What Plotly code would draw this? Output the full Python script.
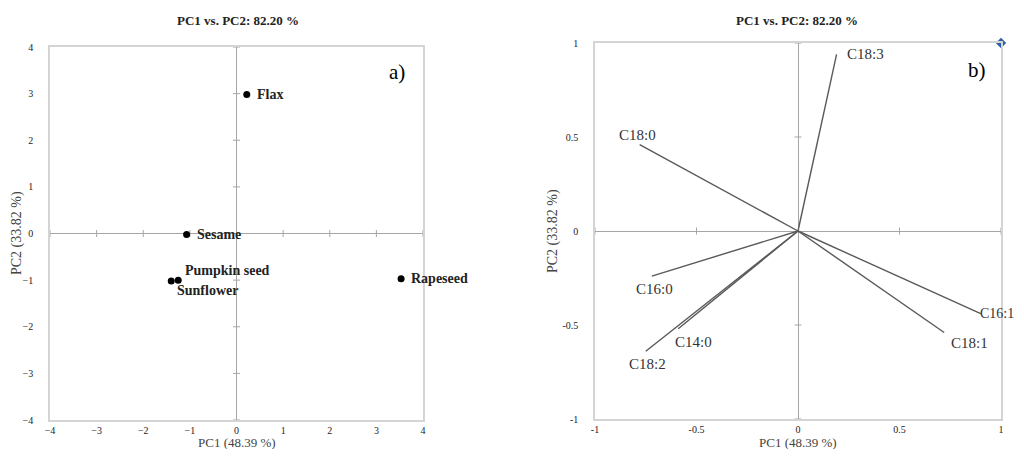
import plotly.graph_objects as go

# ---- data: panel a (scores) ----
oils = ["Flax", "Sesame", "Pumpkin seed", "Sunflower", "Rapeseed"]
pc1_scores = [0.22, -1.07, -1.25, -1.40, 3.53]
pc2_scores = [2.98, -0.02, -1.00, -1.02, -0.97]

# ---- data: panel b (loadings) ----
acids = ["C18:3", "C18:0", "C16:0", "C14:0", "C18:2", "C16:1", "C18:1"]
pc1_load = [0.19, -0.78, -0.72, -0.59, -0.75, 0.90, 0.72]
pc2_load = [0.94, 0.46, -0.24, -0.52, -0.64, -0.44, -0.54]

ticks_a = [-4, -3, -2, -1, 0, 1, 2, 3, 4]
ticks_b = [-1, -0.5, 0, 0.5, 1]
tick_text_b = ["-1", "-0.5", "0", "0.5", "1"]

title_text = "PC1 vs. PC2: 82.20 %"
xlab = "PC1 (48.39 %)"
ylab = "PC2 (33.82 %)"

SERIF = "'Liberation Serif', 'Times New Roman', 'DejaVu Serif', serif"
FRAME = "#d4d4d4"
ZERO = "#a6a6a6"
LINEC = "#595959"

# page body has an 8px margin: map page pixels to paper fractions
W, H, OFF = 1016, 441, 8
def fx(px):
    return (px - OFF) / W
def fy(py):
    return 1 - (py - OFF) / H

fig = go.Figure()

# small tick marks on the zero lines (Excel-style crossing axes)
fig.add_trace(go.Scatter(x=[t for t in ticks_a if t != 0], y=[0]*8, mode="markers",
                         marker=dict(symbol="line-ns", size=5, line=dict(color=ZERO, width=1)),
                         xaxis="x", yaxis="y", hoverinfo="skip", showlegend=False))
fig.add_trace(go.Scatter(y=[t for t in ticks_a if t != 0], x=[0]*8, mode="markers",
                         marker=dict(symbol="line-ew", size=5, line=dict(color=ZERO, width=1)),
                         xaxis="x", yaxis="y", hoverinfo="skip", showlegend=False))
fig.add_trace(go.Scatter(x=[t for t in ticks_b if t != 0], y=[0]*4, mode="markers",
                         marker=dict(symbol="line-ns", size=5, line=dict(color=ZERO, width=1)),
                         xaxis="x2", yaxis="y2", hoverinfo="skip", showlegend=False))
fig.add_trace(go.Scatter(y=[t for t in ticks_b if t != 0], x=[0]*4, mode="markers",
                         marker=dict(symbol="line-ew", size=5, line=dict(color=ZERO, width=1)),
                         xaxis="x2", yaxis="y2", hoverinfo="skip", showlegend=False))

# panel a points
fig.add_trace(go.Scatter(x=pc1_scores, y=pc2_scores, mode="markers",
                         marker=dict(color="black", size=7),
                         xaxis="x", yaxis="y", showlegend=False))

# panel b vectors
vx, vy = [], []
for a, b in zip(pc1_load, pc2_load):
    vx += [0, a, None]
    vy += [0, b, None]
fig.add_trace(go.Scatter(x=vx, y=vy, mode="lines", line=dict(color=LINEC, width=1.4),
                         xaxis="x2", yaxis="y2", showlegend=False))
# blue diamond at corner
fig.add_trace(go.Scatter(x=[ticks_b[-1]], y=[ticks_b[-1]], mode="markers",
                         marker=dict(symbol="diamond", color="#2f5fa8", size=8,
                                     line=dict(color="#2f5fa8", width=0)),
                         cliponaxis=False, xaxis="x2", yaxis="y2", showlegend=False))

axis_common = dict(showgrid=False, zeroline=True, zerolinecolor=ZERO, zerolinewidth=1.2,
                   showline=True, linecolor=FRAME, linewidth=1.5, mirror=True, automargin=False,
                   ticks="", tickfont=dict(family=SERIF, size=10, color="#222222"))
tfont = dict(family=SERIF, size=13, color="#444444")

fig.update_layout(
    width=W, height=H, margin=dict(l=0, r=0, t=0, b=0, autoexpand=False),
    paper_bgcolor="white", plot_bgcolor="white",
    font=dict(family=SERIF),
    xaxis=dict(domain=[fx(50), fx(423)], range=[-4, 4], tickvals=ticks_a, anchor="y",
               ticklabelstandoff=0, **axis_common),
    yaxis=dict(domain=[fy(420), fy(47)], range=[-4, 4], tickvals=ticks_a, anchor="x",
               ticklabelstandoff=13, **axis_common),
    xaxis2=dict(domain=[fx(595), fx(1001)], range=[-1, 1], tickvals=ticks_b, ticktext=tick_text_b,
                anchor="y2", ticklabelstandoff=0, **axis_common),
    yaxis2=dict(domain=[fy(419), fy(43)], range=[-1, 1], tickvals=ticks_b, ticktext=tick_text_b,
                anchor="x2", ticklabelstandoff=13, **axis_common),
)

ann = []
# titles
for xc in [238, 797]:
    ann.append(dict(text="<b>" + title_text + "</b>", x=fx(xc), y=fy(20), xref="paper", yref="paper",
                    xanchor="center", yanchor="middle",
                    showarrow=False, font=dict(family=SERIF, size=13, color="#222222")))
# axis titles
for xc in [237, 798]:
    ann.append(dict(text=xlab, x=fx(xc), y=fy(442), xref="paper", yref="paper",
                    xanchor="center", yanchor="middle", showarrow=False, font=tfont))
for xc, yc in [(17, 233), (553, 231)]:
    ann.append(dict(text=ylab, x=fx(xc), y=fy(yc), xref="paper", yref="paper", textangle=-90,
                    xanchor="center", yanchor="middle", showarrow=False,
                    font=dict(family=SERIF, size=14, color="#444444")))
# panel letters
ann.append(dict(text="a)", x=fx(397), y=fy(72), xref="paper", yref="paper", showarrow=False,
                xanchor="center", yanchor="middle",
                font=dict(family=SERIF, size=21, color="black")))
ann.append(dict(text="b)", x=fx(977), y=fy(70), xref="paper", yref="paper", showarrow=False,
                xanchor="center", yanchor="middle",
                font=dict(family=SERIF, size=21, color="black")))

# panel a labels
a_shift = {"Flax": (8, 0, "left"), "Sesame": (8, 0, "left"), "Pumpkin seed": (5, 10, "left"),
           "Sunflower": (4, -9, "left"), "Rapeseed": (8, 0, "left")}
for name, x, y in zip(oils, pc1_scores, pc2_scores):
    dx, dy, xa = a_shift[name]
    ann.append(dict(text="<b>" + name + "</b>", x=x, y=y, xref="x", yref="y", showarrow=False,
                    xanchor=xa, yanchor="middle", xshift=dx, yshift=dy,
                    font=dict(family=SERIF, size=14, color="#222222")))

# panel b labels
b_shift = {"C18:3": (8, 0, "left"), "C18:0": (-2, 10, "center"), "C16:0": (3, -13, "center"),
           "C14:0": (15, -13, "center"), "C18:2": (2, -13, "center"), "C16:1": (-3, 0, "left"),
           "C18:1": (25, -10, "center")}
for name, x, y in zip(acids, pc1_load, pc2_load):
    dx, dy, xa = b_shift[name]
    ann.append(dict(text=name, x=x, y=y, xref="x2", yref="y2", showarrow=False,
                    xanchor=xa, yanchor="middle", xshift=dx, yshift=dy,
                    font=dict(family=SERIF, size=15 if name != "C16:1" else 14, color="#333333")))

fig.update_layout(annotations=ann)
fig.write_html("out.html")
